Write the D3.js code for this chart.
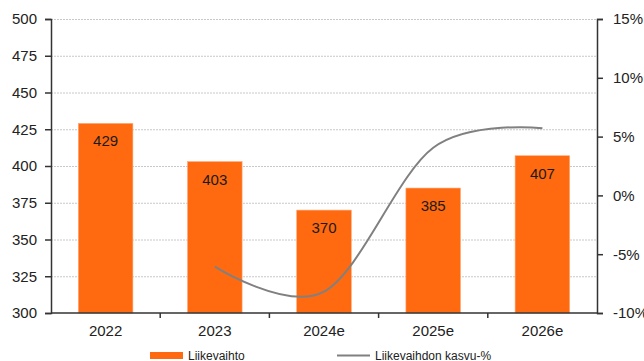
<!DOCTYPE html>
<html><head><meta charset="utf-8">
<script src="https://cdn.jsdelivr.net/npm/d3@7"></script>
<style>body{margin:0;background:#fff}svg{display:block;font-family:"Liberation Sans",Arial,sans-serif}</style>
</head><body><svg id="c" width="644" height="361"></svg>
<script>
const categories = ["2022","2023","2024e","2025e","2026e"];
const revenue = [429,403,370,385,407];
const growth = [null,-6.06,-8.19,4.05,5.71];
const leftTicks = [300,325,350,375,400,425,450,475,500];
const rightTicks = [-10,-5,0,5,10,15];

const svg = d3.select("#c");
const m = {l:51, r:597, t:19, b:313};
const x = d3.scaleBand().domain(categories).range([m.l,m.r]).paddingInner(0.5).paddingOuter(0.25);
const xb = d3.scaleBand().domain(categories).range([m.l,m.r]);
const y = d3.scaleLinear().domain([300,500]).range([m.b,m.t]);
const y2 = d3.scaleLinear().domain([-10,15]).range([m.b,m.t]);

// grid
svg.append("g").selectAll("line").data(leftTicks.slice(1)).join("line")
  .attr("x1",m.l).attr("x2",m.r).attr("y1",d=>y(d)+0.5).attr("y2",d=>y(d)+0.5)
  .attr("stroke","#c8c8c8").attr("stroke-width",1).attr("stroke-dasharray","2,1");

// bars
svg.append("g").selectAll("rect").data(revenue).join("rect")
  .attr("x",(d,i)=>x(categories[i])).attr("width",x.bandwidth())
  .attr("y",d=>y(d)).attr("height",d=>y(300)-y(d))
  .attr("fill","#ff6a10").attr("stroke","#ffa878").attr("stroke-width",0.6);

svg.append("g").selectAll("text").data(revenue).join("text")
  .attr("x",(d,i)=>x(categories[i])+x.bandwidth()/2).attr("y",d=>y(d)+23)
  .attr("text-anchor","middle").attr("font-size",15).attr("fill","#1a1a1a").text(d=>d);

// line
const pts = growth.map((g,i)=>[xb(categories[i])+xb.bandwidth()/2,g]).filter(p=>p[1]!==null);
svg.append("path").attr("d",d3.line().x(p=>p[0]).y(p=>y2(p[1])).curve(d3.curveCardinal.tension(0))(pts))
  .attr("fill","none").attr("stroke","#808080").attr("stroke-width",2);

// axes
const axL = svg.append("g").attr("transform",`translate(${m.l},0)`)
  .call(d3.axisLeft(y).tickValues(leftTicks).tickSize(6).tickPadding(8));
const axR = svg.append("g").attr("transform",`translate(${m.r},0)`)
  .call(d3.axisRight(y2).tickValues(rightTicks).tickSize(6).tickPadding(10).tickFormat(d=>d+"%"));
const axB = svg.append("g").attr("transform",`translate(0,${m.b})`)
  .call(d3.axisBottom(xb).tickSize(0).tickPadding(12));
[axL,axR,axB].forEach(a=>{
  a.select(".domain").attr("stroke","#333").attr("stroke-width",1.5);
  a.selectAll(".tick line").attr("stroke","#333").attr("stroke-width",1.5);
  a.selectAll("text").attr("font-size",15).attr("fill","#222").attr("font-family",'"Liberation Sans",Arial,sans-serif');
});
axB.select(".domain").attr("d",`M${m.l},0H${m.r}`);
// category boundary ticks
svg.append("g").selectAll("line").data(categories.slice(1)).join("line")
  .attr("x1",d=>xb(d)).attr("x2",d=>xb(d)).attr("y1",m.b).attr("y2",m.b+5)
  .attr("stroke","#333").attr("stroke-width",1.5);
axB.selectAll(".tick text").attr("dy","0.71em");

// legend
const lg = svg.append("g").attr("fill","#222");
lg.append("rect").attr("x",150).attr("y",352).attr("width",33).attr("height",7).attr("fill","#ff6a10");
lg.append("text").attr("x",188).attr("y",360).text("Liikevaihto").attr("font-size",12);
lg.append("line").attr("x1",337).attr("x2",370).attr("y1",355.5).attr("y2",355.5).attr("stroke","#808080").attr("stroke-width",2);
lg.append("text").attr("x",375).attr("y",360).text("Liikevaihdon kasvu-%").attr("font-size",12);
</script></body></html>
